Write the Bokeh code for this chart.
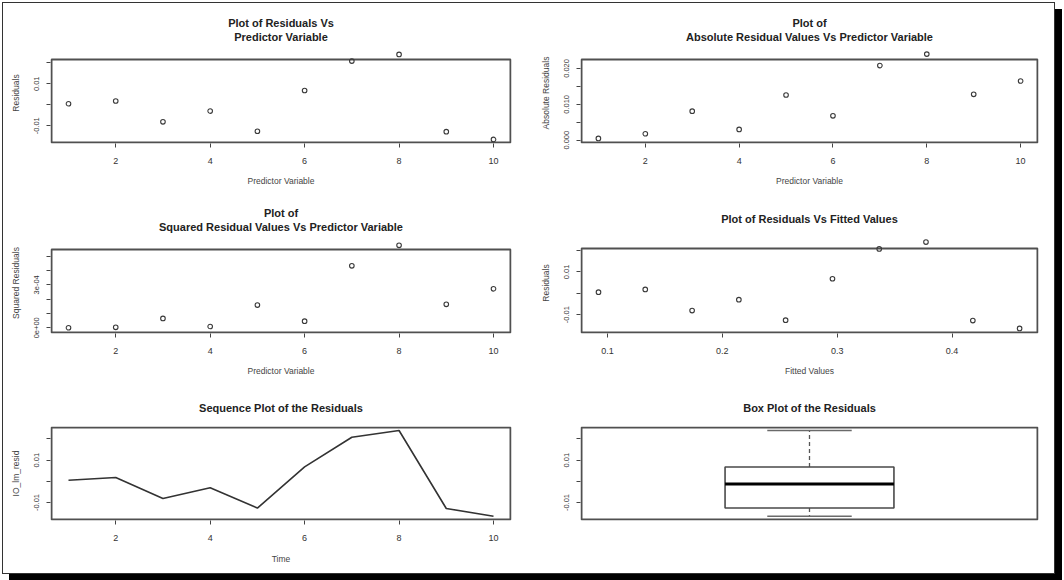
import numpy as np
from bokeh.plotting import figure
from bokeh.layouts import column, row
from bokeh.models import FixedTicker, Range1d, Title
from bokeh.embed import file_html
from bokeh.resources import INLINE

# ---- data -------------------------------------------------------------
predictor = [1, 2, 3, 4, 5, 6, 7, 8, 9, 10]
residuals = [0.0005, 0.0018, -0.0081, -0.0030, -0.0126,
             0.0068, 0.0208, 0.0240, -0.0128, -0.0165]
fitted = [0.0922, 0.1329, 0.1737, 0.2144, 0.2551,
          0.2959, 0.3366, 0.3773, 0.4181, 0.4588]

abs_resid = list(np.abs(residuals))
sq_resid = list(np.square(residuals))

# Tukey five-number summary for the box plot
_s = np.sort(residuals)
_n = len(_s)
_n4 = np.floor((_n + 3) / 2) / 2
_d = np.array([1, _n4, (_n + 1) / 2, _n + 1 - _n4, _n]) - 1
five = 0.5 * (_s[np.floor(_d).astype(int)] + _s[np.ceil(_d).astype(int)])

x_ticks = [2, 4, 6, 8, 10]
x_tick_labels = ["2", "4", "6", "8", "10"]
fit_ticks = [0.1, 0.2, 0.3, 0.4]
fit_tick_labels = ["0.1", "0.2", "0.3", "0.4"]
res_ticks = [-0.01, 0.0, 0.01, 0.02]
res_tick_labels = ["-0.01", "", "0.01", ""]
abs_ticks = [0.0, 0.005, 0.01, 0.015, 0.02]
abs_tick_labels = ["0.000", "", "0.010", "", "0.020"]
sq_ticks = [0.0, 0.0001, 0.0002, 0.0003, 0.0004, 0.0005]
sq_tick_labels = ["0e+00", "", "", "3e-04", "", ""]

FONT = "Liberation Sans"
INK = "#333333"
BOX = "#505050"


def panel(fig_w, fig_h, box, xr, yr, pads, titles, xlabel, ylabel,
          xticks, xlabels, yticks, ylabels, x_standoff=10, x_label_standoff=9):
    """A base-graphics style panel.

    box    -- (left, top, width, height) of the plot box inside the figure, px
    xr/yr  -- axis limits at the plot box edges
    pads   -- extra frame room (left, right, top, bottom) px around the plot box
    titles -- (text, standoff, offset) per title line, bottom line first
    """
    bl, bt, bw, bh = box
    pl, pr, pt, pb = pads
    dx = (xr[1] - xr[0]) / bw
    dy = (yr[1] - yr[0]) / bh
    p = figure(width=fig_w, height=fig_h,
               x_range=Range1d(xr[0] - pl * dx, xr[1] + pr * dx),
               y_range=Range1d(yr[0] - pb * dy, yr[1] + pt * dy),
               output_backend="svg", toolbar_location=None, title=None,
               min_border_left=bl - pl, min_border_right=fig_w - bl - bw - pr,
               min_border_top=bt - pt, min_border_bottom=fig_h - bt - bh - pb)
    p.grid.visible = False
    p.outline_line_color = None
    p.background_fill_color = "white"
    p.border_fill_color = "white"

    for text, standoff, offset in titles:
        p.add_layout(Title(text=text, align="center", text_font=FONT,
                           text_font_size="11px", text_font_style="bold",
                           text_color="#222222",
                           standoff=standoff, offset=offset), "above")

    # plot box
    p.quad(left=[xr[0]], right=[xr[1]], bottom=[yr[0]], top=[yr[1]],
           fill_color=None, line_color=BOX, line_width=2)

    xa = p.xaxis[0]
    if xticks is None:
        xa.visible = False
    else:
        xa.ticker = FixedTicker(ticks=xticks)
        xa.major_label_overrides = {t: l for t, l in zip(xticks, xlabels)}
        xa.minor_tick_line_color = None
        xa.axis_line_color = None
        xa.major_tick_out = 4
        xa.major_tick_in = 0
        xa.major_tick_line_color = "#444444"
        xa.major_label_text_font = FONT
        xa.major_label_text_font_size = "9px"
        xa.major_label_text_color = INK
        xa.major_label_standoff = x_standoff
        xa.axis_label = xlabel
        xa.axis_label_text_font = FONT
        xa.axis_label_text_font_size = "8.5px"
        xa.axis_label_text_font_style = "normal"
        xa.axis_label_text_color = "#444444"
        xa.axis_label_standoff = x_label_standoff

    ya = p.yaxis[0]
    ya.ticker = FixedTicker(ticks=yticks)
    ya.major_label_overrides = {t: l for t, l in zip(yticks, ylabels)}
    ya.minor_tick_line_color = None
    ya.axis_line_color = None
    ya.major_tick_out = 4
    ya.major_tick_in = 0
    ya.major_tick_line_color = "#444444"
    ya.major_label_orientation = "parallel"
    ya.major_label_text_font = FONT
    ya.major_label_text_font_size = "7.5px"
    ya.major_label_text_color = INK
    ya.major_label_standoff = 7
    if ylabel:
        ya.axis_label = ylabel
        ya.axis_label_text_font = FONT
        ya.axis_label_text_font_size = "8.5px"
        ya.axis_label_text_font_style = "normal"
        ya.axis_label_text_color = "#444444"
        ya.axis_label_standoff = 11
    return p


def points(p, xs, ys):
    p.scatter(xs, ys, marker="circle", size=4.6, fill_color=None,
              line_color="#3a3a3a", line_width=1.1)


LW, RW = 527, 524
XR = (0.64, 10.36)
PAD_TWO = (1, 1, 17, 1)   # frame room above the box for two-line titles and high points
PAD = (1, 1, 1, 1)

p1 = panel(LW, 187, (48, 56, 459, 83), XR, (-0.01795, 0.02157), PAD_TWO,
           [("Predictor Variable", 0, -1), ("Plot of Residuals Vs", 0, -1)],
           "Predictor Variable", "Residuals",
           x_ticks, x_tick_labels, res_ticks, res_tick_labels)
points(p1, predictor, residuals)

p2 = panel(RW, 187, (51, 56, 456, 83), XR, (-0.00064, 0.0225), PAD_TWO,
           [("Absolute Residual Values Vs Predictor Variable", 0, -5), ("Plot of", 0, -2)],
           "Predictor Variable", "Absolute Residuals",
           x_ticks, x_tick_labels, abs_ticks, abs_tick_labels)
points(p2, predictor, abs_resid)

# panels sharing a row share their frame borders, so p3 and p4 use the same top room
p3 = panel(LW, 190, (48, 59, 459, 83), XR, (-0.000033, 0.000547), PAD_TWO,
           [("Squared Residual Values Vs Predictor Variable", 0, -6), ("Plot of", 0, -3)],
           "Predictor Variable", "Squared Residuals",
           x_ticks, x_tick_labels, sq_ticks, sq_tick_labels)
points(p3, predictor, sq_resid)

p4 = panel(RW, 190, (51, 58, 456, 84), (0.0774, 0.4744), (-0.0184, 0.021), (1, 1, 16, 1),
           [("Plot of Residuals Vs Fitted Values", 16, -1)],
           "Fitted Values", "Residuals",
           fit_ticks, fit_tick_labels, res_ticks, res_tick_labels)
points(p4, fitted, residuals)

p5 = panel(LW, 193, (48, 47, 459, 92), XR, (-0.018, 0.0254), PAD,
           [("Sequence Plot of the Residuals", 26, 0)],
           "Time", "IO_lm_resid",
           x_ticks, x_tick_labels, res_ticks, res_tick_labels,
           x_standoff=10, x_label_standoff=10)
p5.line(predictor, residuals, line_color="#333333", line_width=1.6)

p6 = panel(RW, 193, (51, 47, 456, 92), (0.46, 1.54), (-0.018, 0.0254), PAD,
           [("Box Plot of the Residuals", 26, -1)],
           None, None, None, None, res_ticks, res_tick_labels)
# whiskers
p6.segment(x0=[1, 1], y0=[five[3], five[1]], x1=[1, 1], y1=[five[4], five[0]],
           line_color="#555555", line_width=1.3, line_dash="4 3")
# whisker caps
p6.segment(x0=[0.9, 0.9], y0=[five[4], five[0]], x1=[1.1, 1.1], y1=[five[4], five[0]],
           line_color="#6a6a6a", line_width=1.6)
# box
p6.quad(left=[0.8], right=[1.2], bottom=[five[1]], top=[five[3]],
        fill_color="white", line_color="#4a4a4a", line_width=1.6)
# median
p6.segment(x0=[0.8], y0=[five[2]], x1=[1.2], y1=[five[2]],
           line_color="black", line_width=3)

page = column(row(p1, p2), row(p3, p4), row(p5, p6),
              margin=(2, 0, 0, 2),
              styles={"border": "1px solid #333333",
                      "box-shadow": "7px 7px 0 0 #000000",
                      "background-color": "white"})

open("out.html", "w").write(file_html(page, INLINE))
